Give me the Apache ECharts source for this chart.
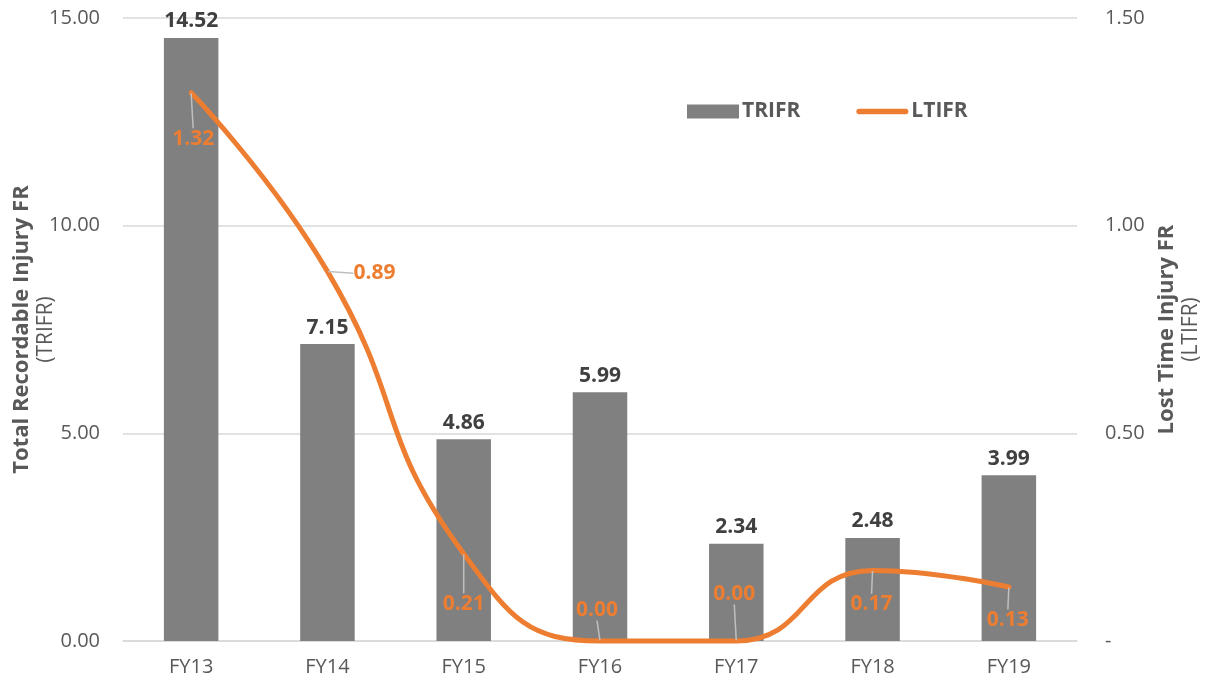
<!DOCTYPE html>
<html lang="en">
<head>
    <meta charset="UTF-8">
    <title>TRIFR / LTIFR</title>
    <script src="https://cdn.jsdelivr.net/npm/echarts@6/dist/echarts.min.js"></script>
    <style>
        html, body { margin: 0; padding: 0; background: #fff; }
        #chart { width: 1207px; height: 683px; }
    </style>
</head>
<body>
<div id="chart"></div>
<script type="text/javascript">
    var years = ['FY13', 'FY14', 'FY15', 'FY16', 'FY17', 'FY18', 'FY19'];
    var trifr = [14.52, 7.15, 4.86, 5.99, 2.34, 2.48, 3.99];
    var ltifr = [1.32, 0.89, 0.21, 0.00, 0.00, 0.17, 0.13];

    // where each LTIFR label sits relative to its point (px)
    var labelShift = [[2, 46], [47, 2], [0, 50], [-3, -31], [-2, -47], [-1, 34], [-1, 33]];

    var font = 'Open Sans';
    var myChart = echarts.init(document.getElementById('chart'));

    var nameRich = {
        b: { fontSize: 22, fontWeight: 'bold', color: '#595959', lineHeight: 25, fontFamily: font },
        n: { fontSize: 21, color: '#595959', lineHeight: 25, fontFamily: font }
    };

    myChart.setOption({
        animation: false,
        textStyle: { fontFamily: font },
        grid: { left: 123, right: 130, top: 18, bottom: 42, containLabel: false, outerBoundsMode: 'none' },
        legend: {
            left: 682,
            top: 96,
            itemGap: 56,
            itemWidth: 52,
            itemHeight: 14,
            textStyle: { fontSize: 21, fontWeight: 'bold', color: '#595959', padding: [0, 0, 0, -2] },
            data: [
                { name: 'TRIFR', icon: 'rect' },
                { name: 'LTIFR', icon: 'path://M3,0 L53,0 A3,3 0 0 1 53,6 L3,6 A3,3 0 0 1 3,0 Z', itemStyle: { color: '#ED7D31' } }
            ]
        },
        xAxis: {
            type: 'category',
            data: years,
            axisTick: { show: false },
            axisLine: { lineStyle: { color: '#d9d9d9', width: 1.5 } },
            axisLabel: { color: '#595959', fontSize: 20, margin: 16 }
        },
        yAxis: [
            {
                type: 'value',
                min: 0, max: 15, interval: 5,
                name: '{b|Total Recordable Injury FR}\n{n|(TRIFR)}',
                nameLocation: 'middle',
                nameRotate: 90,
                nameGap: 64,
                nameMoveOverlap: false,
                nameTextStyle: { align: 'center', rich: nameRich },
                axisLabel: {
                    color: '#595959', fontSize: 20, margin: 23,
                    formatter: function (v) { return v.toFixed(2); }
                },
                splitLine: { lineStyle: { color: '#d9d9d9', width: 1.5 } }
            },
            {
                type: 'value',
                min: 0, max: 1.5, interval: 0.5,
                name: '{b|Lost Time Injury FR}\n{n|(LTIFR)}',
                nameLocation: 'middle',
                nameRotate: 90,
                nameGap: 73,
                nameTextStyle: { align: 'center', rich: nameRich },
                axisLabel: {
                    color: '#595959', fontSize: 20, margin: 28,
                    formatter: function (v) { return v === 0 ? '-' : v.toFixed(2); }
                },
                splitLine: { show: false }
            }
        ],
        series: [
            {
                name: 'TRIFR',
                type: 'bar',
                data: trifr,
                barWidth: '40%',
                itemStyle: { color: '#808080' },
                label: {
                    show: true,
                    position: 'top',
                    distance: 6,
                    color: '#404040',
                    fontSize: 21,
                    fontWeight: 'bold',
                    formatter: function (p) { return p.value.toFixed(2); }
                }
            },
            {
                name: 'LTIFR',
                type: 'line',
                yAxisIndex: 1,
                data: ltifr,
                smooth: 0.5,
                clip: false,
                symbol: 'circle',
                symbolSize: 1,
                showSymbol: true,
                lineStyle: { color: '#ED7D31', width: 5, cap: 'round' },
                itemStyle: { color: '#ED7D31' },
                label: {
                    show: true,
                    position: 'inside',
                    color: '#ED7D31',
                    fontSize: 21,
                    fontWeight: 'bold',
                    formatter: function (p) { return p.value.toFixed(2); }
                },
                labelLine: { show: true, lineStyle: { color: '#bfbfbf', width: 1.5 } },
                labelLayout: function (p) {
                    var s = labelShift[p.dataIndex];
                    return { dx: s[0], dy: s[1] };
                }
            }
        ]
    });
</script>
</body>
</html>
